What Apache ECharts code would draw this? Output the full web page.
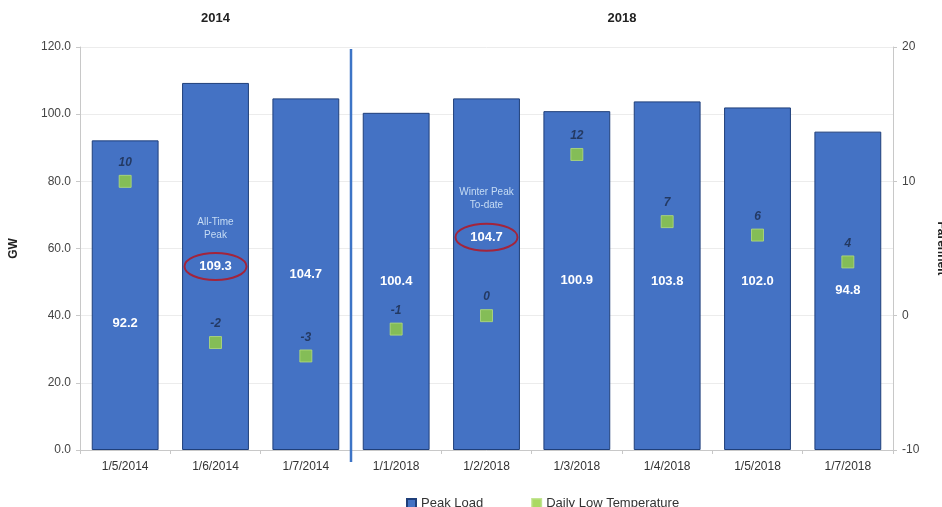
<!DOCTYPE html>
<html lang="en">
<head>
    <meta charset="UTF-8">
    <title>Peak Load vs Daily Low Temperature</title>
    <script src="https://cdn.jsdelivr.net/npm/echarts@6/dist/echarts.min.js"></script>
    <style>
        body, html {
            margin: 0;
            padding: 0;
            width: 100%;
            height: 100%;
            overflow: hidden;
            background: #fff;
        }
        #chart {
            width: 942px;
            height: 507px;
        }
    </style>
</head>
<body>
    <div id="chart"></div>
    <script>
        // data
        var categories = ['1/5/2014', '1/6/2014', '1/7/2014', '1/1/2018', '1/2/2018', '1/3/2018', '1/4/2018', '1/5/2018', '1/7/2018'];
        var peakLoad = [92.2, 109.3, 104.7, 100.4, 104.7, 100.9, 103.8, 102.0, 94.8];
        var lowTemp = [10, -2, -3, -1, 0, 12, 7, 6, 4];
        var groups = [
            { name: '2014', from: 0, to: 2 },
            { name: '2018', from: 3, to: 8 }
        ];
        var notes = [
            { index: 1, text: 'All-Time\nPeak' },
            { index: 4, text: 'Winter Peak\nTo-date' }
        ];

        // manual nudges of the value labels (px, down is positive)
        var labelShift = { 0: 28, 4: -37, 6: 6, 7: 3 };

        var font = 'Arial, "Liberation Sans", sans-serif';

        var barData = peakLoad.map(function (v, i) {
            return {
                value: v,
                label: { offset: [0, labelShift[i] || 0] }
            };
        });

        var option = {
            backgroundColor: '#fff',
            animation: false,
            grid: { left: 80, right: 49, top: 47, bottom: 57, containLabel: false, outerBoundsMode: 'none' },
            legend: {
                top: 492,
                left: 401,
                itemWidth: 9,
                itemHeight: 9,
                itemGap: 48,
                icon: 'rect',
                textStyle: { fontFamily: font, fontSize: 13, color: '#333' },
                data: ['Peak Load', 'Daily Low Temperature']
            },
            xAxis: {
                type: 'category',
                data: categories,
                axisLine: { lineStyle: { color: '#c8c8c8' } },
                axisTick: { show: true, length: 4, lineStyle: { color: '#c8c8c8' } },
                axisLabel: { color: '#333', fontFamily: font, fontSize: 12, margin: 11 }
            },
            yAxis: [
                {
                    type: 'value',
                    min: 0,
                    max: 120,
                    interval: 20,
                    name: 'GW',
                    nameLocation: 'middle',
                    nameGap: 60,
                    nameTextStyle: { fontFamily: font, fontSize: 12, fontWeight: 'bold', color: '#222' },
                    axisLine: { show: true, lineStyle: { color: '#c8c8c8' } },
                    axisTick: { show: true, length: 4, lineStyle: { color: '#c8c8c8' } },
                    axisLabel: {
                        color: '#444', fontFamily: font, fontSize: 12, margin: 9,
                        formatter: function (v) { return v.toFixed(1); }
                    },
                    splitLine: { lineStyle: { color: '#ececec' } }
                },
                {
                    type: 'value',
                    min: -10,
                    max: 20,
                    interval: 10,
                    name: 'Farenheit',
                    nameLocation: 'middle',
                    nameRotate: -90,
                    nameGap: 42,
                    nameTextStyle: { fontFamily: font, fontSize: 12, fontWeight: 'bold', color: '#222' },
                    axisLine: { show: true, lineStyle: { color: '#c8c8c8' } },
                    axisTick: { show: true, length: 4, lineStyle: { color: '#c8c8c8' } },
                    axisLabel: { color: '#444', fontFamily: font, fontSize: 12, margin: 9 },
                    splitLine: { show: false }
                }
            ],
            series: [
                {
                    name: 'Peak Load',
                    type: 'bar',
                    data: barData,
                    barCategoryGap: '26%',
                    itemStyle: { color: '#4472c4', borderColor: '#1f3f7a', borderWidth: 1 },
                    label: {
                        show: true,
                        position: 'inside',
                        color: '#fff',
                        fontFamily: font,
                        fontSize: 13,
                        fontWeight: 'bold',
                        formatter: function (p) { return p.value.toFixed(1); }
                    },
                    z: 2
                },
                {
                    name: 'Daily Low Temperature',
                    type: 'scatter',
                    yAxisIndex: 1,
                    data: lowTemp,
                    symbol: 'rect',
                    symbolSize: 12,
                    itemStyle: { color: '#95cf3c', borderColor: '#b5df7a', borderWidth: 1 },
                    label: {
                        show: true,
                        position: 'top',
                        distance: 6,
                        color: '#1c2b4a',
                        fontFamily: font,
                        fontSize: 12,
                        fontWeight: 'bold',
                        fontStyle: 'italic'
                    },
                    z: 3
                }
            ]
        };

        var chart = echarts.init(document.getElementById('chart'));
        chart.setOption(option);

        // extras placed through the chart's own scales
        function px(i, v) {
            return chart.convertToPixel({ xAxisIndex: 0, yAxisIndex: 0 }, [i, v]);
        }
        var graphics = [];

        groups.forEach(function (g) {
            var cx = (px(g.from, 0)[0] + px(g.to, 0)[0]) / 2;
            graphics.push({
                type: 'text',
                x: cx, y: 18,
                style: {
                    text: g.name, align: 'center', verticalAlign: 'middle',
                    font: 'bold 13px ' + font, fill: '#222'
                }
            });
        });

        // divider between the two winters
        var yTop = px(0, 120)[1];
        var yBase = px(0, 0)[1];
        var divX = (px(groups[0].to, 0)[0] + px(groups[1].from, 0)[0]) / 2;
        graphics.push({
            type: 'line',
            shape: { x1: divX, y1: yTop + 2, x2: divX, y2: yBase + 12 },
            style: { stroke: '#3d74c6', lineWidth: 2.5 },
            z: 10
        });

        notes.forEach(function (n) {
            var p = px(n.index, peakLoad[n.index] / 2);
            var cy = p[1] + (labelShift[n.index] || 0);
            graphics.push({
                type: 'ellipse',
                shape: { cx: p[0], cy: cy, rx: 31, ry: 13.5 },
                style: { fill: 'none', stroke: '#a3243b', lineWidth: 2 },
                z: 10
            });
            graphics.push({
                type: 'text',
                x: p[0], y: cy - 38,
                style: {
                    text: n.text, align: 'center', verticalAlign: 'middle',
                    font: '10px ' + font, fill: '#c6dcf4', lineHeight: 13
                },
                z: 10
            });
        });

        chart.setOption({ graphic: graphics });
    </script>
</body>
</html>
